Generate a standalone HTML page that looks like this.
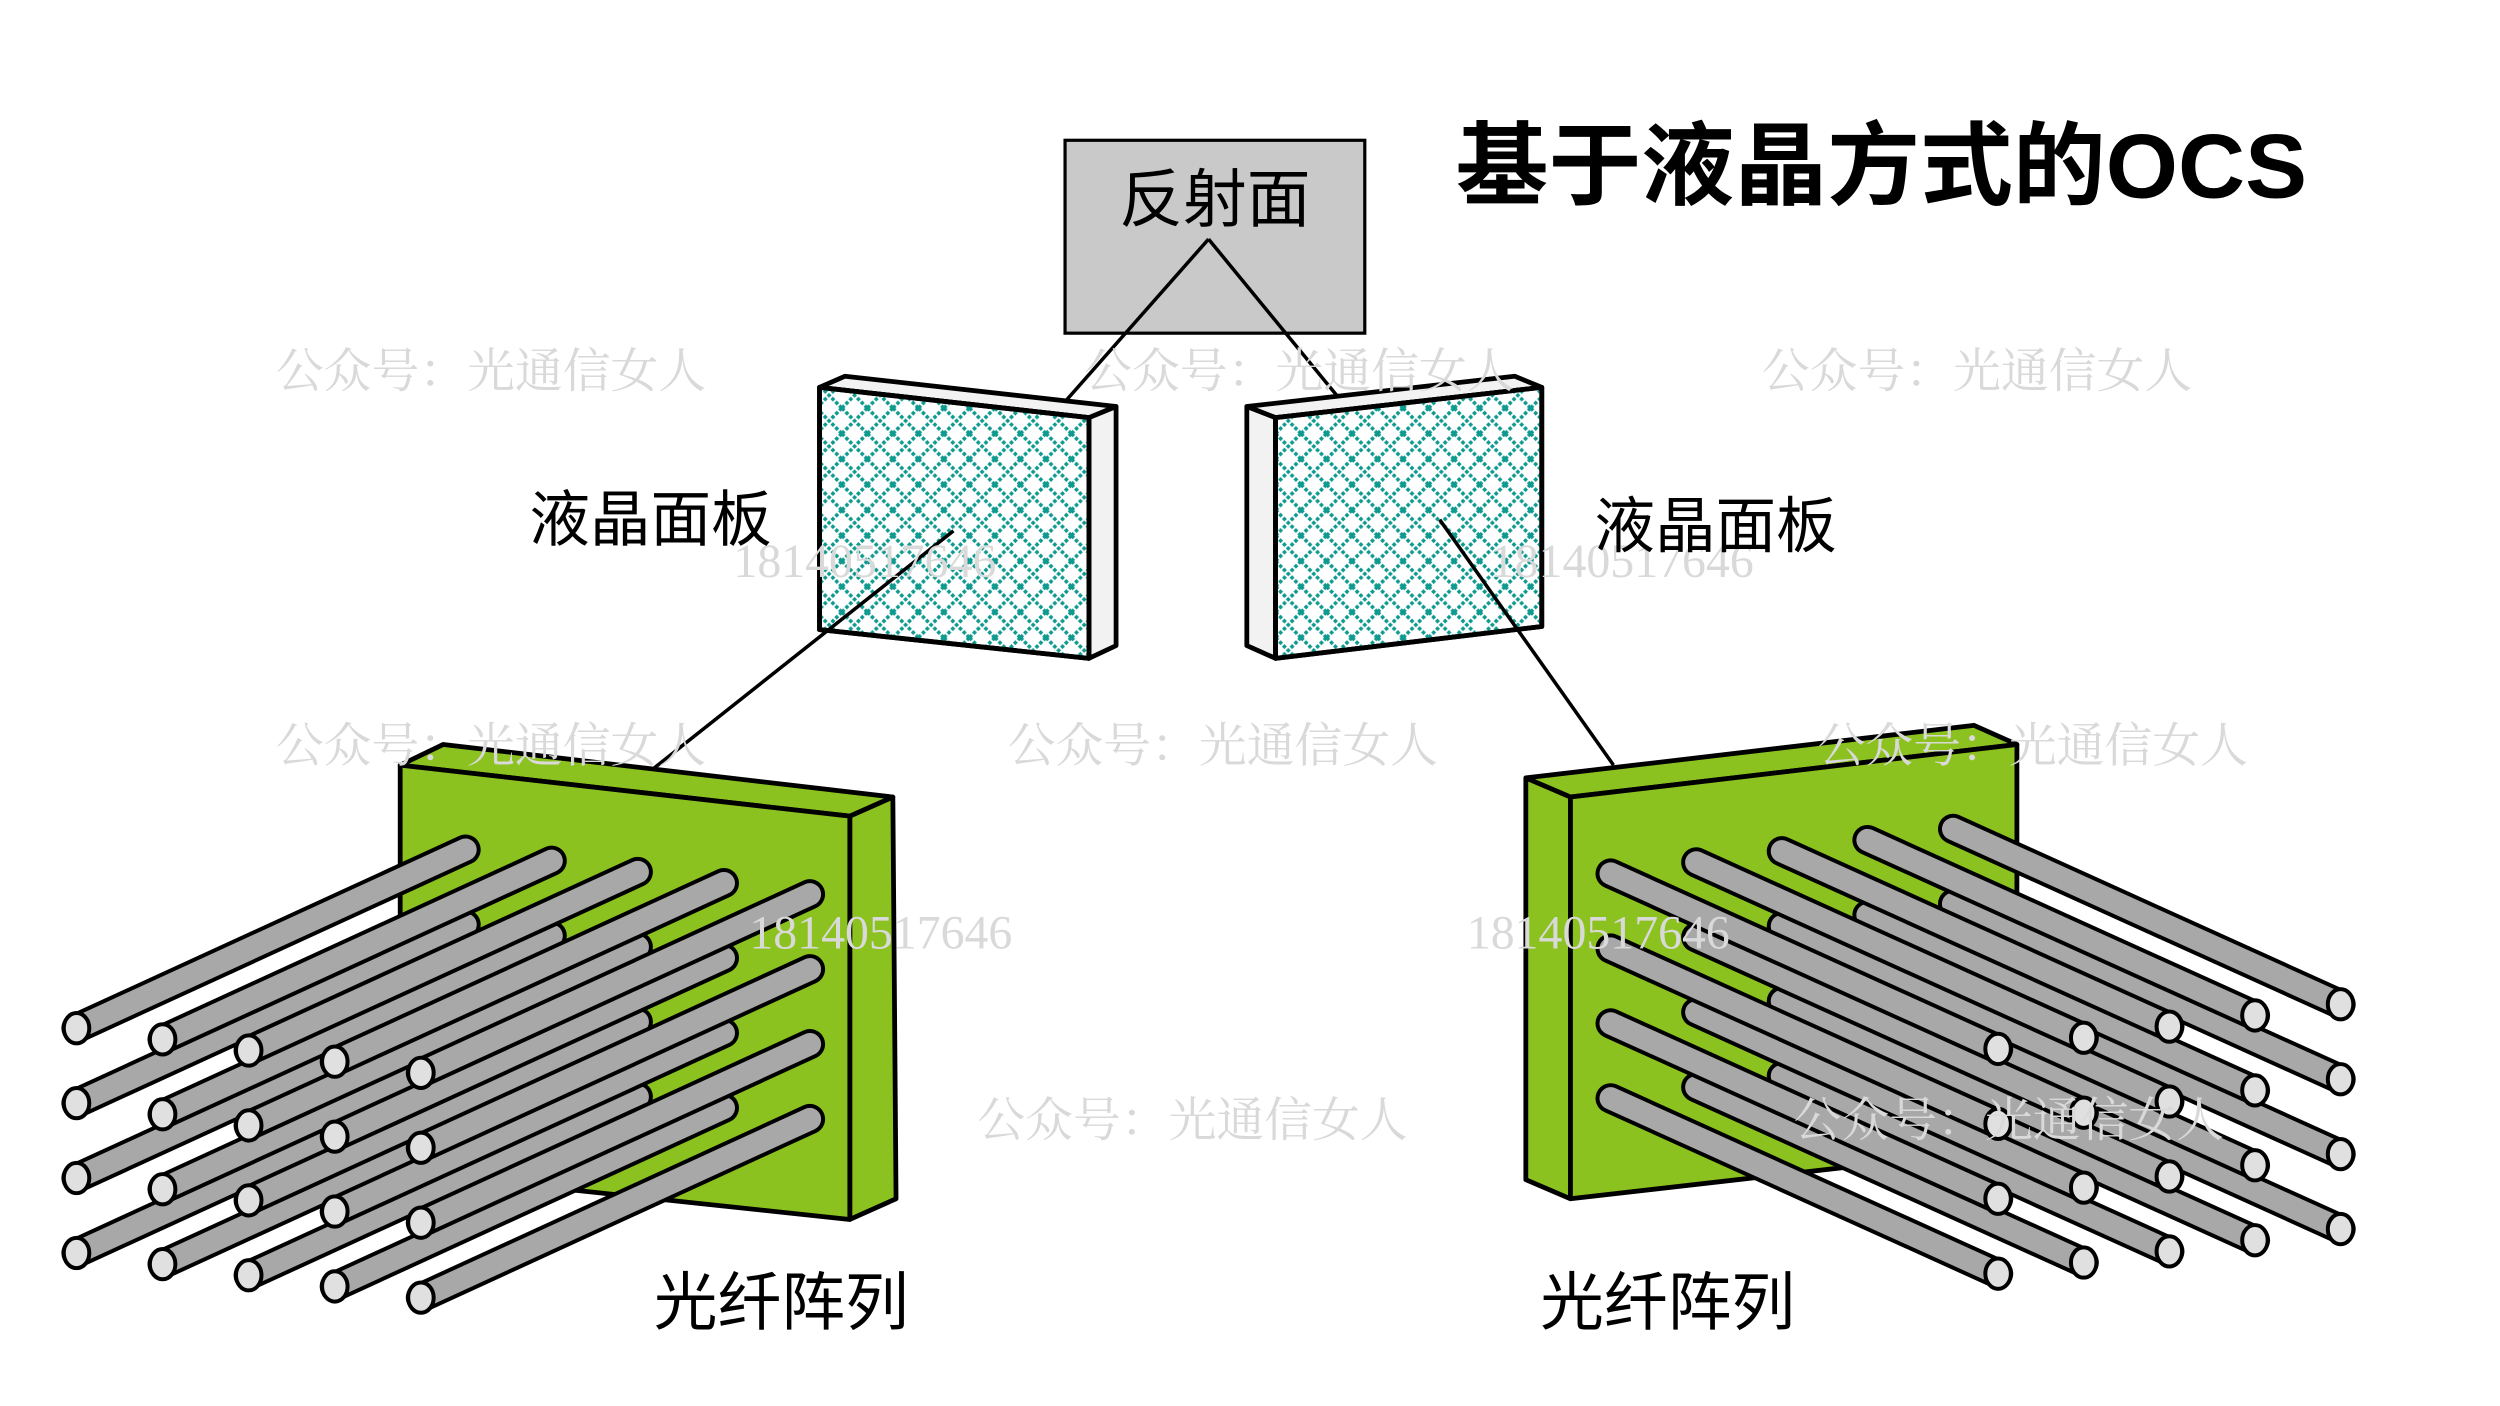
<!DOCTYPE html>
<html><head><meta charset="utf-8"><style>
html,body{margin:0;padding:0;background:#fff;}
svg{display:block;}
.wm{font-family:"Liberation Serif","Noto Serif CJK SC",serif;fill:#d9d9d9;font-size:30px;}
.lb{font-family:"Liberation Sans","Noto Sans CJK SC",sans-serif;fill:#000;}
</style></head><body>
<svg id="s" width="2500" height="1406" viewBox="0 0 1568 882" preserveAspectRatio="none" xmlns="http://www.w3.org/2000/svg">
<defs>
<pattern id="mesh" width="16" height="16" patternUnits="userSpaceOnUse">
<path d="M0 0 L16 16 M16 0 L0 16" stroke="#0f9a8f" stroke-width="2.2" stroke-dasharray="2.2 1.2" fill="none"/>
</pattern>
</defs>
<rect width="1568" height="882" fill="#fff"/>
<rect x="668" y="88" width="188" height="121" fill="#c9c9c9" stroke="#000" stroke-width="2"/>
<text class="lb" x="762" y="139" font-size="40" text-anchor="middle">反射面</text>
<line x1="758" y1="150" x2="668" y2="252" stroke="#000" stroke-width="2.2"/>
<line x1="758" y1="150" x2="840" y2="250" stroke="#000" stroke-width="2.2"/>
<g stroke="#000" stroke-width="3" stroke-linejoin="round">
<polygon points="514,243 530,236 700,255 683,262" fill="#f2f2f2"/>
<polygon points="683,262 700,255 700,405 683,413" fill="#f2f2f2"/>
<polygon points="514,243 683,262 683,413 514,395" fill="#fff"/>
<polygon points="514,243 683,262 683,413 514,395" fill="url(#mesh)"/>
<polygon points="782,255 950,236 967,243 800,262" fill="#f2f2f2"/>
<polygon points="782,255 800,262 800,413 782,405" fill="#f2f2f2"/>
<polygon points="800,262 967,243 967,393 800,413" fill="#fff"/>
<polygon points="800,262 967,243 967,393 800,413" fill="url(#mesh)"/>
</g>
<line x1="598" y1="333" x2="410" y2="482" stroke="#000" stroke-width="2.2"/>
<line x1="903" y1="326" x2="1012" y2="480" stroke="#000" stroke-width="2.2"/>
<g stroke="#000" stroke-width="3" stroke-linejoin="round" fill="#8cc220">
<polygon points="251,480 278,467 560,500 533,512"/>
<polygon points="533,512 560,500 562,752 533,765"/>
<polygon points="251,480 533,512 533,765 251,735"/>
<polygon points="957,488 1238,455 1265,467 985,500"/>
<polygon points="957,488 985,500 985,752 957,740"/>
<polygon points="985,500 1265,467 1265,720 985,752"/>
</g>
<g id="fibers"></g>
<g class="wm">
<text x="173" y="243">公众号：光通信女人</text>
<text x="680" y="243">公众号：光通信女人</text>
<text x="1105" y="243">公众号：光通信女人</text>
<text x="173" y="478">公众号：光通信女人</text>
<text x="632" y="478">公众号：光通信女人</text>
<text x="1140" y="478">公众号：光通信女人</text>
<text x="613" y="713">公众号：光通信女人</text>
<text x="1125" y="713">公众号：光通信女人</text>
<text x="460" y="362">18140517646</text>
<text x="935" y="362">18140517646</text>
<text x="470" y="595">18140517646</text>
<text x="920" y="595">18140517646</text>
</g>
<text class="lb" x="913" y="124" font-size="57" font-weight="bold" textLength="534" lengthAdjust="spacingAndGlyphs">基于液晶方式的OCS</text>
<text class="lb" x="332" y="339" font-size="38">液晶面板</text>
<text class="lb" x="1000" y="343" font-size="38">液晶面板</text>
<text class="lb" x="410" y="831" font-size="40">光纤阵列</text>
<text class="lb" x="966" y="831" font-size="40">光纤阵列</text>
</svg>
<script>
var g=document.getElementById('fibers'),NS='http://www.w3.org/2000/svg';
function el(t,a){var e=document.createElementNS(NS,t);for(var k in a)e.setAttribute(k,a[k]);g.appendChild(e);}
function fiber(cx,cy,dx,dy){
 el('line',{x1:cx,y1:cy,x2:cx+dx,y2:cy+dy,stroke:'#000','stroke-width':19,'stroke-linecap':'round'});
 el('line',{x1:cx,y1:cy,x2:cx+dx,y2:cy+dy,stroke:'#a8a8a8','stroke-width':14,'stroke-linecap':'round'});
 el('ellipse',{cx:cx,cy:cy,rx:8,ry:9.5,fill:'#e0e0e0',stroke:'#000','stroke-width':2.5});
}
var r,c;
for(c=0;c<5;c++)for(r=0;r<4;r++){fiber(48+c*54,645+c*7+r*47,244,-112);}
for(c=0;c<5;c++)for(r=0;r<4;r++){fiber(1468-c*53.7,630+c*7+r*47,-243,-110);}
</script>
</body></html>
